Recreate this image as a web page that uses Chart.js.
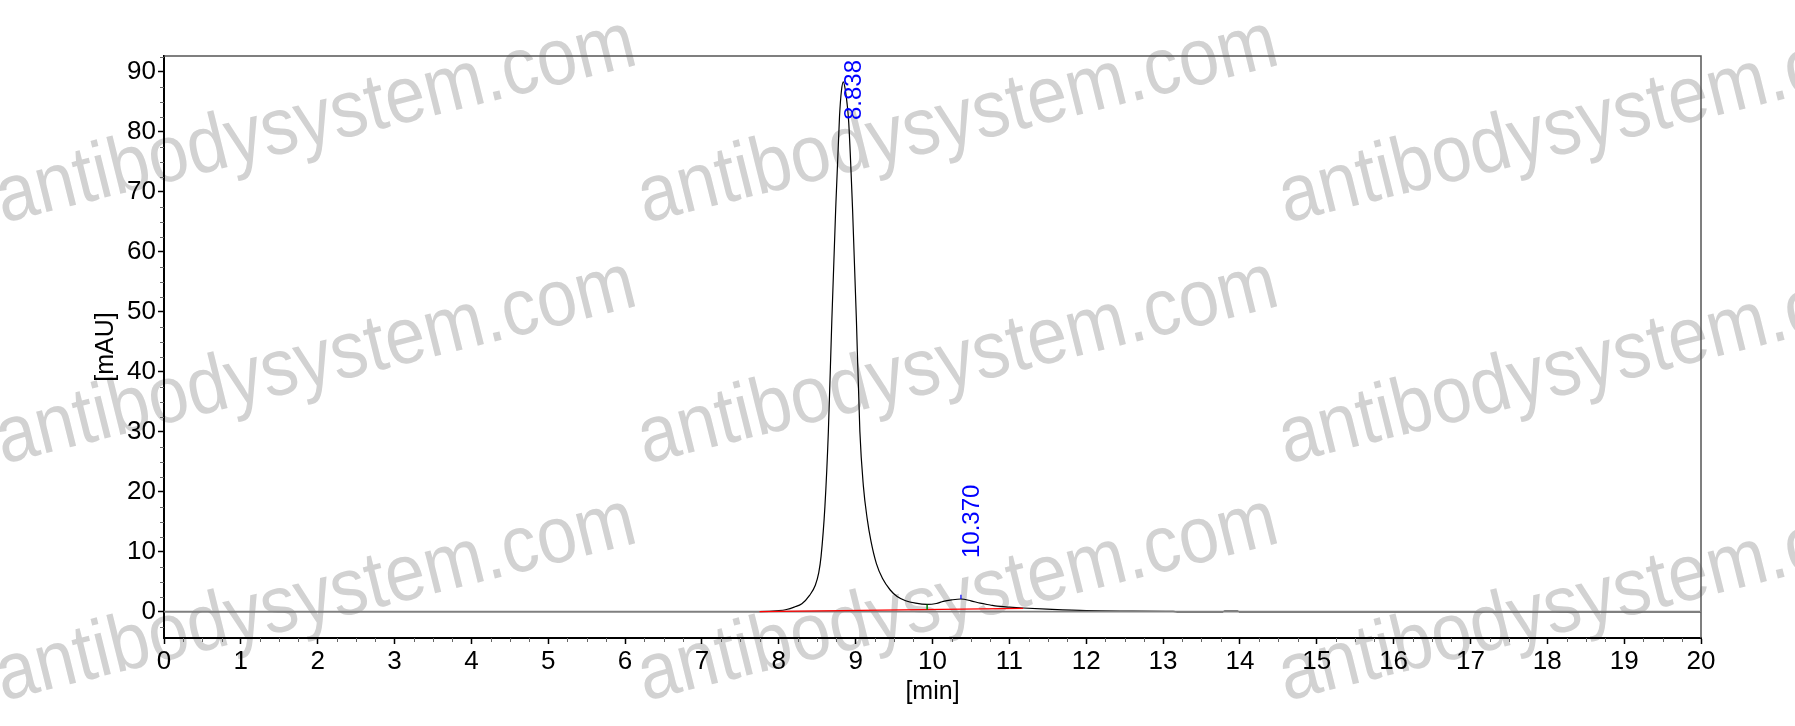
<!DOCTYPE html>
<html>
<head>
<meta charset="utf-8">
<script src="https://cdn.jsdelivr.net/npm/chart.js@4.4.1/dist/chart.umd.min.js"></script>
<style>
  body { margin: 0; background: #fff; }
</style>
</head>
<body>
<canvas id="chromatogram" width="1795" height="726"></canvas>
<script>
// retention time [min] and detector signal [mAU]
var retentionTime = [0, 7.0, 7.75, 8.0, 8.1, 8.2, 8.3, 8.4, 8.475, 8.52,
    8.55, 8.6, 8.645, 8.69, 8.74, 8.79, 8.815, 8.84, 8.865, 8.89,
    8.91, 8.96, 9.01, 9.055, 9.1, 9.15, 9.2, 9.27, 9.35, 9.45,
    9.54, 9.65, 9.78, 9.93, 10.05, 10.14, 10.25, 10.37, 10.5, 10.62,
    10.75, 10.84, 11.0, 11.18, 11.49, 12.0, 12.5, 13.13, 13.2, 13.77,
    13.8, 13.97, 14.0, 16.0, 20.0];
var absorbance = [0, 0, 0, 0.15, 0.35, 0.75, 1.3, 2.7, 4.4, 6.5,
    9.2, 17.5, 30, 48.5, 67, 82.5, 86.8, 88.3, 87, 84.5,
    81.5, 67, 48.5, 30, 21, 15.5, 11.7, 8.0, 5.5, 3.6,
    2.5, 1.8, 1.4, 1.2, 1.35, 1.7, 1.95, 2.1, 1.8, 1.4,
    1.1, 0.9, 0.75, 0.6, 0.4, 0.15, 0.1, 0.05, -0.05, -0.05,
    0.1, 0.1, -0.05, -0.05, -0.05];

// integration baseline (red) end points
var baselineTime = [7.75, 11.18];
var baselineValue = [0.0, 0.55];

// peak table
var peakTimes = [8.838, 10.370];
var peakLabels = ['8.838', '10.370'];
var peakHeights = [88.3, 2.1];
var boundaryTime = [9.93];
var boundaryValue = [1.2];

var xTickValues = [0, 1, 2, 3, 4, 5, 6, 7, 8, 9, 10, 11, 12, 13, 14, 15, 16, 17, 18, 19, 20];
var yTickValues = [0, 10, 20, 30, 40, 50, 60, 70, 80, 90];

var fontFamily = '"Liberation Sans", Arial, sans-serif';

var signalPoints = retentionTime.map(function(t, i) { return { x: t, y: absorbance[i] }; });
var baselinePoints = baselineTime.map(function(t, i) { return { x: t, y: baselineValue[i] }; });
var zeroLine = [{ x: 0, y: 0 }, { x: 20, y: 0 }];
var boundaryTick = [{ x: boundaryTime[0], y: boundaryValue[0] }, { x: boundaryTime[0], y: baselineValue[0] + 0.3 }];
var apexTick = [{ x: peakTimes[1], y: peakHeights[1] }, { x: peakTimes[1], y: peakHeights[1] + 0.7 }];

var background = {
    id: 'background',
    beforeDraw: function(chart) {
        var ctx = chart.ctx;
        ctx.save();
        ctx.fillStyle = '#fff';
        ctx.fillRect(0, 0, chart.width, chart.height);
        // watermark grid
        ctx.fillStyle = '#d2d2d2';
        ctx.font = '72px ' + fontFamily;
        ctx.textBaseline = 'alphabetic';
        [3, 645, 1286].forEach(function(wx) {
            [223, 464, 701].forEach(function(wy) {
                ctx.save();
                ctx.translate(wx, wy);
                ctx.rotate(-14 * Math.PI / 180);
                ctx.scale(1, 1.12);
                ctx.fillText('antibodysystem.com', 0, 0);
                ctx.restore();
            });
        });
        ctx.restore();
    }
};

var frame = {
    id: 'frame',
    beforeDatasetsDraw: function(chart) {
        var ctx = chart.ctx, a = chart.chartArea;
        var xs = chart.scales.x, ys = chart.scales.y;
        ctx.save();
        ctx.strokeStyle = '#555';
        ctx.lineWidth = 1.5;
        ctx.beginPath();
        ctx.moveTo(a.left, a.top);
        ctx.lineTo(a.right, a.top);
        ctx.lineTo(a.right, a.bottom);
        ctx.stroke();
        // minor ticks
        ctx.strokeStyle = '#666';
        ctx.lineWidth = 1;
        ctx.beginPath();
        for (var v = -2.5; v <= 92.6; v += 2.5) {
            if (v % 10 === 0) continue;
            var py = Math.round(ys.getPixelForValue(v)) + 0.5;
            ctx.moveTo(a.left - 4, py);
            ctx.lineTo(a.left, py);
        }
        for (var m = 0.25; m < 20; m += 0.25) {
            if (m % 1 === 0) continue;
            var px = Math.round(xs.getPixelForValue(m)) + 0.5;
            ctx.moveTo(px, a.bottom);
            ctx.lineTo(px, a.bottom + 4);
        }
        ctx.stroke();
        ctx.restore();
    }
};

var peakText = {
    id: 'peakText',
    afterDatasetsDraw: function(chart) {
        var ctx = chart.ctx, a = chart.chartArea;
        var xs = chart.scales.x, ys = chart.scales.y;
        ctx.save();
        ctx.fillStyle = '#0000ff';
        ctx.font = '24px ' + fontFamily;
        ctx.textBaseline = 'middle';
        ctx.textAlign = 'left';
        peakTimes.forEach(function(t, i) {
            var w = ctx.measureText(peakLabels[i]).width;
            var px = xs.getPixelForValue(t) + 11;
            var start = ys.getPixelForValue(peakHeights[i]) - 41;
            if (start - w < a.top + 2) start = a.top + 4 + w;
            ctx.save();
            ctx.translate(px, start);
            ctx.rotate(-Math.PI / 2);
            ctx.fillText(peakLabels[i], 0, 0);
            ctx.restore();
        });
        ctx.restore();
    }
};

new Chart(document.getElementById('chromatogram'), {
    type: 'line',
    data: {
        datasets: [{
            label: 'signal',
            data: signalPoints,
            borderColor: '#000',
            borderWidth: 1.2,
            pointRadius: 0,
            cubicInterpolationMode: 'monotone',
            order: 5
        }, {
            label: 'zero',
            data: zeroLine,
            borderColor: '#808080',
            borderWidth: 1.6,
            pointRadius: 0,
            order: 4
        }, {
            label: 'baseline',
            data: baselinePoints,
            borderColor: '#ff0000',
            borderWidth: 1.2,
            pointRadius: 0,
            order: 3
        }, {
            label: 'boundary',
            data: boundaryTick,
            borderColor: '#008000',
            borderWidth: 1.5,
            pointRadius: 0,
            order: 2
        }, {
            label: 'apex',
            data: apexTick,
            borderColor: '#0000ff',
            borderWidth: 1.2,
            pointRadius: 0,
            order: 1
        }]
    },
    options: {
        responsive: false,
        animation: false,
        devicePixelRatio: 1,
        layout: { padding: { left: 0, top: 56, right: 94, bottom: 0 } },
        plugins: {
            legend: { display: false },
            tooltip: { enabled: false }
        },
        scales: {
            x: {
                type: 'linear',
                min: 0,
                max: 20,
                afterBuildTicks: function(s) { s.ticks = xTickValues.map(function(v) { return { value: v }; }); },
                afterFit: function(s) { s.height = 88; },
                grid: { drawOnChartArea: false, drawTicks: true, tickLength: 6, tickColor: '#000', tickWidth: 1.5 },
                border: { color: '#000', width: 2 },
                ticks: { color: '#000', font: { family: fontFamily, size: 26 }, padding: 2, maxRotation: 0, autoSkip: false },
                title: { display: true, text: '[min]', color: '#000', font: { family: fontFamily, size: 25 }, padding: { top: 0, bottom: 19 } }
            },
            y: {
                type: 'linear',
                min: -4.4,
                max: 92.6,
                afterBuildTicks: function(s) { s.ticks = yTickValues.map(function(v) { return { value: v }; }); },
                afterFit: function(s) { s.width = 164; },
                grid: { drawOnChartArea: false, drawTicks: true, tickLength: 6, tickColor: '#000', tickWidth: 1.5 },
                border: { color: '#000', width: 2 },
                ticks: { color: '#000', font: { family: fontFamily, size: 26 }, padding: 2 },
                title: { display: true, text: '[mAU]', color: '#000', font: { family: fontFamily, size: 25 }, padding: { top: 91, bottom: 0 } }
            }
        }
    },
    plugins: [background, frame, peakText]
});
</script>
</body>
</html>
